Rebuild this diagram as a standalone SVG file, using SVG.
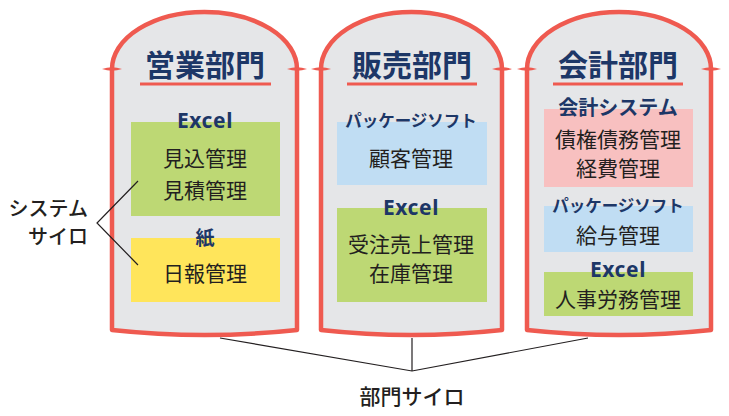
<svg xmlns="http://www.w3.org/2000/svg" width="729" height="416" viewBox="0 0 729 416">
<style>
.silo{fill:#e5e6e8;stroke:#ef5a50;stroke-width:4.5;stroke-linejoin:round}
.spike{fill:#ef5a50}
.uline{stroke:#ef5a50;stroke-width:3}
.title{font-family:"Noto Sans CJK JP","Noto Sans",sans-serif;font-weight:700;font-size:30px;fill:#1d3767;text-anchor:middle}
.lab{font-family:"Noto Sans","Noto Sans CJK JP",sans-serif;font-weight:700;font-size:21px;letter-spacing:0.6px;fill:#1d3767;text-anchor:middle}
.labj{font-family:"Noto Sans CJK JP",sans-serif;font-weight:700;font-size:16.5px;fill:#1d3767;text-anchor:middle}
.body{font-family:"Noto Sans CJK JP",sans-serif;font-weight:400;font-size:21px;fill:#231f20;text-anchor:middle}
.note{font-family:"Noto Sans CJK JP",sans-serif;font-weight:500;font-size:20px;fill:#231f20}
.green{fill:#bdd874}
.yellow{fill:#ffe55b}
.blue{fill:#c0ddf3}
.pink{fill:#f8c0c0}
.conn{fill:none;stroke:#231f20;stroke-width:1.2}
</style>
<defs>
<path id="sp" d="M-10,0 Q0,-3.5 10,0 Q0,3.5 -10,0 Z"/>
</defs>

<g id="silo-eigyo">
<path class="silo" d="M112,330 L112,69 A92.5,57 0 0 1 297,69 L297,330 Q204.5,340 112,330 Z"/>
<use href="#sp" class="spike" x="112" y="69"/>
<use href="#sp" class="spike" x="297" y="69"/>
<text class="title" x="205" y="76">営業部門</text>
<line class="uline" x1="140" y1="84" x2="271" y2="84"/>
<rect class="green" x="131" y="122" width="149" height="94"/>
<text class="lab" x="205" y="128">Excel</text>
<text class="body" x="205" y="166">見込管理</text>
<text class="body" x="205" y="198">見積管理</text>
<rect class="yellow" x="131" y="238" width="149" height="64"/>
<text class="labj" x="205" y="245" style="font-size:19px">紙</text>
<text class="body" x="205" y="281">日報管理</text>
</g>

<g id="silo-hanbai">
<path class="silo" d="M321,330 L321,69 A90.5,57 0 0 1 502,69 L502,330 Q411.5,340 321,330 Z"/>
<use href="#sp" class="spike" x="321" y="69"/>
<use href="#sp" class="spike" x="502" y="69"/>
<text class="title" x="412" y="76">販売部門</text>
<line class="uline" x1="347" y1="84" x2="477" y2="84"/>
<rect class="blue" x="337" y="122" width="150" height="63"/>
<text class="labj" x="411" y="127">パッケージソフト</text>
<text class="body" x="411" y="166">顧客管理</text>
<rect class="green" x="337" y="208" width="150" height="94"/>
<text class="lab" x="411" y="215">Excel</text>
<text class="body" x="411" y="252">受注売上管理</text>
<text class="body" x="411" y="281">在庫管理</text>
</g>

<g id="silo-kaikei">
<path class="silo" d="M527,330 L527,69 A92,57 0 0 1 711,69 L711,330 Q619,340 527,330 Z"/>
<use href="#sp" class="spike" x="527" y="69"/>
<use href="#sp" class="spike" x="711" y="69"/>
<text class="title" x="618" y="76">会計部門</text>
<line class="uline" x1="553" y1="84" x2="683" y2="84"/>
<rect class="pink" x="544" y="109" width="149" height="78"/>
<text class="labj" x="618" y="115" style="font-size:20px">会計システム</text>
<text class="body" x="618" y="147">債権債務管理</text>
<text class="body" x="618" y="176">経費管理</text>
<rect class="blue" x="544" y="206" width="149" height="46"/>
<text class="labj" x="618" y="212">パッケージソフト</text>
<text class="body" x="618" y="243">給与管理</text>
<rect class="green" x="544" y="272" width="149" height="44"/>
<text class="lab" x="618" y="277">Excel</text>
<text class="body" x="618" y="307">人事労務管理</text>
</g>

<g id="label-system">
<text class="note" x="88" y="216" text-anchor="end">システム</text>
<text class="note" x="88" y="244" text-anchor="end">サイロ</text>
</g>

<g id="label-bumon">
<text class="note" x="412" y="404" text-anchor="middle" style="font-size:21px">部門サイロ</text>
</g>

<g id="connectors">
<polyline class="conn" points="138,181 97,223 138,265"/>
<polyline class="conn" points="220,338 412,371 588,338"/>
<line class="conn" x1="412" y1="338" x2="412" y2="371"/>
</g>
</svg>
